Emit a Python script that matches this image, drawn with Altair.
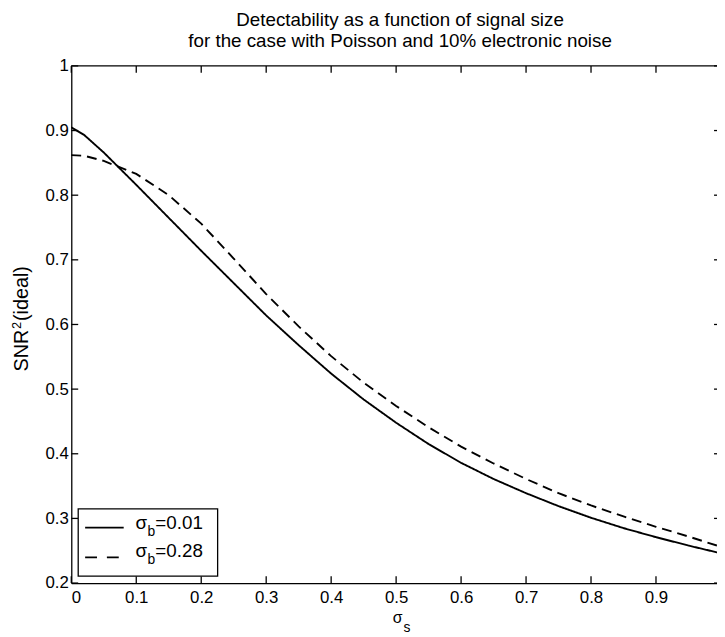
import altair as alt
import pandas as pd

# ---- data ----
sigma_s = [0.0, 0.02, 0.05, 0.1, 0.15, 0.2, 0.25, 0.3, 0.35, 0.4, 0.45, 0.5,
           0.55, 0.6, 0.65, 0.7, 0.75, 0.8, 0.85, 0.9, 0.95, 1.0]
snr_b001 = [0.905, 0.893, 0.866, 0.816, 0.765, 0.714, 0.664, 0.614, 0.568, 0.524, 0.484, 0.448,
            0.415, 0.386, 0.361, 0.339, 0.319, 0.301, 0.285, 0.271, 0.258, 0.246]
snr_b028 = [0.862, 0.861, 0.853, 0.833, 0.800, 0.756, 0.702, 0.647, 0.597, 0.551, 0.510, 0.474,
            0.441, 0.411, 0.385, 0.361, 0.339, 0.320, 0.303, 0.287, 0.272, 0.256]
series_names = ["0.01", "0.28"]
x_ticks = [round(i / 10, 1) for i in range(0, 11)]
x_labels = [round(i / 10, 1) for i in range(0, 10)]
y_ticks = [round(0.2 + i / 10, 1) for i in range(0, 9)]
title_lines = ["Detectability as a function of signal size",
               "for the case with Poisson and 10% electronic noise"]
y_title_parts = ["SNR", "2", "(ideal)"]

FONT = "Liberation Sans"
W, H = 653, 523       # view size; x range runs slightly past the page edge
XR = 657

df = pd.concat([
    pd.DataFrame({"s": sigma_s, "snr": snr_b001, "b": series_names[0]}),
    pd.DataFrame({"s": sigma_s, "snr": snr_b028, "b": series_names[1]}),
])

xs = alt.Scale(domain=[0, 1], range=[0, XR], nice=False)
ys = alt.Scale(domain=[0.2, 1.0], nice=False, zero=False)

base = alt.Chart(df)

lines = base.mark_line(color="black", strokeWidth=1.9).encode(
    x=alt.X("s:Q", scale=xs,
            axis=alt.Axis(values=x_labels, ticks=False, grid=False, title=None,
                          domainColor="black", domainWidth=1.3,
                          labelFont=FONT, labelFontSize=17, labelColor="black",
                          labelPadding=7, labelExpr="datum.value == 0 ? '0' : format(datum.value, '.1f')")),
    y=alt.Y("snr:Q", scale=ys,
            axis=alt.Axis(values=y_ticks, ticks=False, grid=False, title=None,
                          domainColor="black", domainWidth=1.3,
                          labelFont=FONT, labelFontSize=17, labelColor="black",
                          labelPadding=3,
                          labelExpr="datum.value == 1 ? '1' : format(datum.value, '.1f')")),
    strokeDash=alt.StrokeDash("b:N", scale=alt.Scale(domain=series_names,
                                                     range=[[1, 0], [10, 6]]), legend=None),
    detail="b:N",
)

xt = pd.DataFrame({"t": x_ticks})
yt = pd.DataFrame({"t": y_ticks})
tick_style = dict(color="black", strokeWidth=1.3)
tb = alt.Chart(xt).mark_rule(**tick_style).encode(x=alt.X("t:Q", scale=xs), y=alt.value(H), y2=alt.value(H - 7))
tt = alt.Chart(xt).mark_rule(**tick_style).encode(x=alt.X("t:Q", scale=xs), y=alt.value(0), y2=alt.value(7))
tl = alt.Chart(yt).mark_rule(**tick_style).encode(y=alt.Y("t:Q", scale=ys), x=alt.value(0), x2=alt.value(7))
tr = alt.Chart(yt).mark_rule(**tick_style).encode(y=alt.Y("t:Q", scale=ys), x=alt.value(XR), x2=alt.value(XR - 7))

one = pd.DataFrame({"a": [0]})
top_line = alt.Chart(one).mark_rule(color="black", strokeWidth=1.3).encode(
    x=alt.value(0), x2=alt.value(XR), y=alt.value(0))

# legend
leg_box = alt.Chart(one).mark_rect(fill="white", stroke="black", strokeWidth=1.3).encode(
    x=alt.value(7), x2=alt.value(148), y=alt.value(448), y2=alt.value(516))
leg_l1 = alt.Chart(one).mark_rule(color="black", strokeWidth=1.9).encode(
    x=alt.value(14), x2=alt.value(53), y=alt.value(467))
leg_l2 = alt.Chart(one).mark_rule(color="black", strokeWidth=1.9, strokeDash=[12, 10]).encode(
    x=alt.value(14), x2=alt.value(48), y=alt.value(497))


def txt(t, x, y, size, align="left", baseline="alphabetic", angle=0):
    return alt.Chart(pd.DataFrame({"t": [t]})).mark_text(
        font=FONT, fontSize=size, color="black", align=align, baseline=baseline, angle=angle
    ).encode(x=alt.value(x), y=alt.value(y), text="t:N")


legend_texts = []
for i, name in enumerate(series_names):
    yb = 468 + 29 * i
    legend_texts += [txt("σ", 65, yb, 19), txt("b", 77, yb + 7, 14), txt("=" + name, 85, yb, 19)]

xtitle = [txt("σ", 330, 563, 16, align="center"), txt("s", 336, 572, 14)]

ytitle = [txt(y_title_parts[0], -44, 309, 20, angle=270),
          txt(y_title_parts[1], -51, 266, 13, angle=270),
          txt(y_title_parts[2], -44, 258, 20, angle=270)]

chart = alt.layer(
    lines, tb, tt, tl, tr, top_line, leg_box, leg_l1, leg_l2, *legend_texts, *xtitle, *ytitle
).properties(
    width=W, height=H,
    title=alt.TitleParams(text=title_lines, font=FONT, fontSize=19, fontWeight="normal",
                          color="black", anchor="middle", lineHeight=21, offset=6, dx=6),
    autosize=alt.AutoSizeParams(type="none"),
    padding={"left": 64, "top": 55, "right": 0, "bottom": 51},
).configure_view(stroke=None)

chart.save("out.html", embed_options={"renderer": "svg", "actions": False})
